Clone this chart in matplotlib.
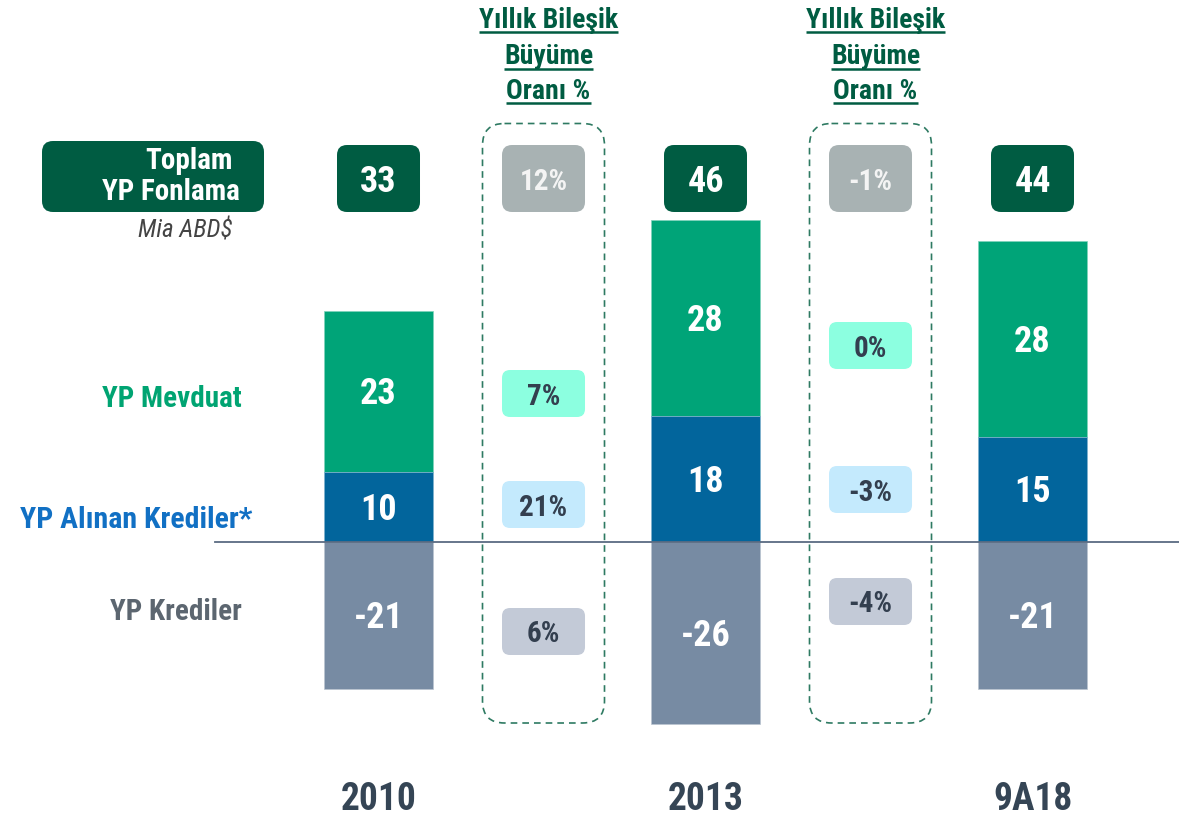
import matplotlib
matplotlib.use("Agg")
import matplotlib.pyplot as plt
from matplotlib.patches import FancyBboxPatch
from matplotlib import transforms
from matplotlib import font_manager

# ---------------- data ----------------
periods = ["2010", "2013", "9A18"]
deposits = [23, 28, 28]          # YP Mevduat
borrowings = [10, 18, 15]        # YP Alınan Krediler*
loans = [-21, -26, -21]          # YP Krediler
totals = [33, 46, 44]            # Toplam YP Fonlama
growth_periods = ["2010-2013", "2013-9A18"]
growth_total = ["12%", "-1%"]
growth_deposits = ["7%", "0%"]
growth_borrowings = ["21%", "-3%"]
growth_loans = ["6%", "-4%"]

series_labels = ["YP Mevduat", "YP Alınan Krediler*", "YP Krediler"]
header_lines = ["Yıllık Bileşik", "Büyüme", "Oranı %"]

# ---------------- fonts ----------------
names = {f.name for f in font_manager.fontManager.ttflist}


def pick(cands):
    for c in cands:
        if c in names:
            return [c, "DejaVu Sans"]
    return ["DejaVu Sans"]


FAM = pick(["Roboto Condensed", "Archivo Narrow", "PT Sans Narrow",
            "IBM Plex Sans Condensed", "Open Sans Condensed", "Pragati Narrow"])
FAM_IT = pick(["Roboto Condensed", "IBM Plex Sans Condensed", "Archivo Narrow", "PT Sans Narrow"])
plt.rcParams["font.family"] = FAM

C_DEP = "#00a478"
C_BOR = "#02659c"
C_LOAN = "#778ba3"
C_DARK = "#005c42"
C_GTOP = "#a8b2b3"
C_GDEP = "#8cffe0"
C_GBOR = "#c4eafd"
C_GLOAN = "#c3cad7"
C_GTXT = "#333f4f"
C_ZERO = "#5a6b82"

W, H = 1179, 817
fig = plt.figure(figsize=(W / 100, H / 100), dpi=100)
ax = fig.add_axes([0, 0, 1, 1])
ax.set_xlim(-1.1575, 2.448)
ax.set_ylim(-39.29, 77.43)
ax.axis("off")

ov = fig.add_axes([0, 0, 1, 1], zorder=5)
ov.set_xlim(0, W)
ov.set_ylim(H, 0)
ov.axis("off")
ov.patch.set_alpha(0)

x = list(range(len(periods)))
bw = 0.333
ax.bar(x, deposits, bw, bottom=borrowings, color=C_DEP, edgecolor="#7fd3bb", linewidth=0.5, zorder=2)
ax.bar(x, borrowings, bw, color=C_BOR, edgecolor="#7fb2cd", linewidth=0.5, zorder=2)
ax.bar(x, loans, bw, color=C_LOAN, edgecolor="#bbc5d1", linewidth=0.5, zorder=2)
ax.axhline(0, xmin=215 / W, xmax=1, color=C_ZERO, lw=1.3, zorder=3)

down13 = ax.transData + transforms.ScaledTranslation(0, -13 / 100, fig.dpi_scale_trans)
for i in x:
    d, b, l = deposits[i], borrowings[i], loans[i]
    for val, mid in [(d, b + d / 2), (b, b / 2), (l, l / 2)]:
        ax.text(i, mid, f"{val}", transform=down13, ha="center", va="baseline",
                color="white", fontsize=26, fontweight="bold", zorder=4)


def px(i):
    return ax.transData.transform((i, 0))[0]


def rbox(cx, cy, w, h, color, r):
    ov.add_patch(FancyBboxPatch((cx - w / 2, cy - h / 2), w, h,
                                boxstyle=f"round,pad=0,rounding_size={r}",
                                facecolor=color, edgecolor="none", zorder=2))


# totals row
for i in x:
    cx = px(i)
    rbox(cx, 178.5, 83, 67, C_DARK, 10)
    ov.text(cx, 191.5, f"{totals[i]}", ha="center", va="baseline", color="white",
            fontsize=26, fontweight="bold", zorder=3)
    ov.text(cx, 810, periods[i], ha="center", va="baseline", color="#354555",
            fontsize=27, fontweight="bold", zorder=3)

# growth columns
fig.canvas.draw()
renderer = fig.canvas.get_renderer()
for k in range(len(growth_periods)):
    cx = (px(k) + px(k + 1)) / 2 + 1.5
    ov.add_patch(FancyBboxPatch((cx - 61, 123.5), 122, 599.5,
                                boxstyle="round,pad=0,rounding_size=22",
                                facecolor="none", edgecolor="#2e7a62", lw=1.2,
                                linestyle=(0, (4, 3)), zorder=1))
    rbox(cx, 178.5, 83, 67, C_GTOP, 10)
    ov.text(cx, 189.5, growth_total[k], ha="center", va="baseline", color="#f4f4f4",
            fontsize=21, fontweight="bold", zorder=3)
    gys = [393.5, 504.5, 631.5] if k == 0 else [345.5, 489.5, 601.5]
    for lab, cy, col in zip([growth_deposits[k], growth_borrowings[k], growth_loans[k]],
                            gys, [C_GDEP, C_GBOR, C_GLOAN]):
        rbox(cx, cy, 83, 47, col, 8)
        ov.text(cx, cy + 11, lab, ha="center", va="baseline", color=C_GTXT,
                fontsize=21, fontweight="bold", zorder=3)
    hx = cx + 5
    for line, base, uy in zip(header_lines, [28, 64, 99], [32, 69, 103]):
        t = ov.text(hx, base, line, ha="center", va="baseline", color=C_DARK,
                    fontsize=20, fontweight="bold", zorder=3)
        bb = t.get_window_extent(renderer)
        ov.plot([bb.x0, bb.x1], [uy, uy], color=C_DARK, lw=1.8, zorder=3,
                solid_capstyle="butt")

# left labels
ov.add_patch(FancyBboxPatch((42, 141), 222, 71, boxstyle="round,pad=0,rounding_size=11",
                            facecolor=C_DARK, edgecolor="none", zorder=2))
ov.text(233, 169, "Toplam", ha="right", va="baseline", color="white",
        fontsize=21, fontweight="bold", zorder=3)
ov.text(240, 200, "YP Fonlama", ha="right", va="baseline", color="white",
        fontsize=21, fontweight="bold", zorder=3)
ov.text(233, 237, "Mia ABD$", ha="right", va="baseline", color="#444444",
        fontsize=18, style="italic", family=FAM_IT, zorder=3)
ov.text(242, 407, series_labels[0], ha="right", va="baseline", color="#00a472",
        fontsize=21, fontweight="bold", zorder=3)
ov.text(252, 528, series_labels[1], ha="right", va="baseline", color="#1170c4",
        fontsize=21.5, fontweight="bold", zorder=3)
ov.text(242, 620, series_labels[2], ha="right", va="baseline", color="#5c6670",
        fontsize=21, fontweight="bold", zorder=3)

fig.savefig("out.png", dpi=100)
